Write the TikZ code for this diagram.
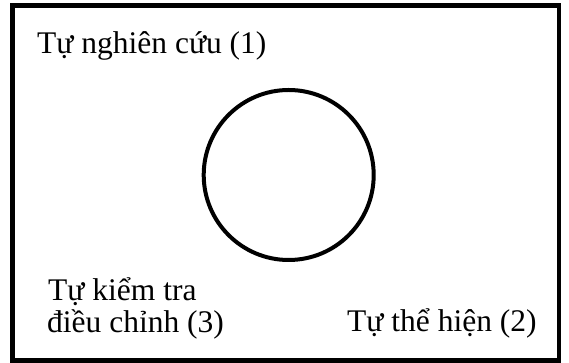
\documentclass[tikz,border=0pt]{standalone}
\usepackage{fontspec}
\setmainfont{Liberation Serif}
\usetikzlibrary{positioning}
\tikzset{
  label text/.style={anchor=base west, inner sep=0pt, font=\fontsize{31.5}{34}\selectfont, align=left},
}
\begin{document}
\begin{tikzpicture}[x=1pt,y=1pt]
  \useasboundingbox (0,0) rectangle (569,363);
  % Frame
  \draw[line width=4.5pt] (12.5,2.5) rectangle (559,357.5);
  % Circle
  \node[draw, circle, line width=4pt, minimum size=170pt, inner sep=0pt] (core) at (288.7,188) {};
  % Labels
  \node[label text] (study) at (37,309) {Tự nghiên cứu (1)};
  \node[label text] (check) at (48,62.3) {Tự kiểm tra};
  \node[label text] (adjust) at (47,30) {điều chỉnh (3)};
  \node[label text] (show) at (347,31.3) {Tự thể hiện (2)};
\end{tikzpicture}
\end{document}
